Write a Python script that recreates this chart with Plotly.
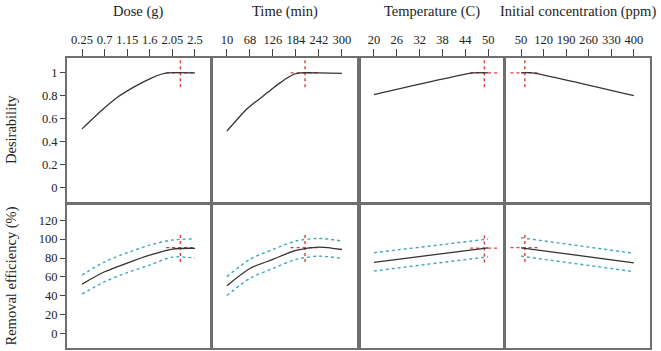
import plotly.graph_objects as go

# ---------------- data ----------------
factor_titles = ["Dose (g)", "Time (min)", "Temperature (C)", "Initial concentration (ppm)"]
row_titles = ["Desirability", "Removal efficiency (%)"]

dose_ticks = [0.25, 0.7, 1.15, 1.6, 2.05, 2.5]
time_ticks = [10, 68, 126, 184, 242, 300]
temp_ticks = [20, 26, 32, 38, 44, 50]
conc_ticks = [50, 120, 190, 260, 330, 400]

# Dose
dose_x = [0.25, 0.61, 0.95, 1.28, 1.61, 1.84, 1.95, 2.5]
dose_des = [0.51, 0.66, 0.785, 0.875, 0.95, 0.99, 1.0, 1.0]
dose_rx = [0.25, 0.7, 1.15, 1.6, 2.05, 2.5]
dose_rem = [52.5, 65.5, 74.7, 83.0, 89.5, 90.3]
dose_up = [62.0, 76.0, 85.6, 93.7, 99.0, 100.2]
dose_lo = [42.0, 55.0, 64.6, 72.6, 81.0, 80.0]

# Time
time_x = [10, 35, 59, 80, 101, 122, 143, 162, 181, 195, 242, 300]
time_des = [0.49, 0.59, 0.68, 0.74, 0.795, 0.855, 0.91, 0.955, 0.99, 1.0, 1.0, 0.995]
time_rx = [10, 68, 126, 184, 242, 300]
time_rem = [50.8, 69.0, 78.6, 88.0, 91.6, 89.0]
time_up = [60.4, 78.6, 89.0, 98.0, 100.7, 98.0]
time_lo = [40.4, 58.6, 69.0, 78.6, 82.0, 79.6]

# Temperature
temp_x = [20, 46, 50]
temp_des = [0.81, 1.0, 1.0]
temp_rx = [20, 50]
temp_rem = [75.4, 90.8]
temp_up = [85.6, 100.0]
temp_lo = [66.3, 81.4]

# Initial concentration
conc_x = [50, 85, 400]
conc_des = [1.0, 1.0, 0.80]
conc_rx = [50, 400]
conc_rem = [90.8, 75.0]
conc_up = [101.4, 85.0]
conc_lo = [82.0, 65.6]

# optimum (crosshair) settings
opt_x = [2.21, 207, 49, 62]
opt_des = [1.0, 1.0, 1.0, 1.0]
opt_rem = [91.0, 91.0, 90.5, 91.0]

des_ticks = [0, 0.2, 0.4, 0.6, 0.8, 1]
des_ticktext = ["0", "0.2", "0.4", "0.6", "0.8", "1"]
rem_ticks = [0, 20, 40, 60, 80, 100, 120]

# ---------------- layout geometry ----------------
W, H = 661, 351
x_ranges = [[-0.05, 2.8], [-25, 338], [16.6, 53.9], [3.5, 450]]
des_range = [-0.13, 1.13]
rem_range = [-15, 136]
col_px = [(67, 210), (213, 357), (361, 503), (506, 650)]
top_px = (58, 202)
bot_px = (205, 348)

FONT = "Liberation Serif, Times New Roman, serif"
BLACK = "#333333"
CYAN = "#3ea9b3"
RED = "#e23a3a"
FRAME = "#6f6f6f"

factors = [
    (dose_ticks, dose_x, dose_des, dose_rx, dose_rem, dose_up, dose_lo),
    (time_ticks, time_x, time_des, time_rx, time_rem, time_up, time_lo),
    (temp_ticks, temp_x, temp_des, temp_rx, temp_rem, temp_up, temp_lo),
    (conc_ticks, conc_x, conc_des, conc_rx, conc_rem, conc_up, conc_lo),
]

fig = go.Figure()
layout = dict(
    width=W, height=H, margin=dict(l=0, r=0, t=0, b=0),
    paper_bgcolor="white", plot_bgcolor="white", showlegend=False,
    font=dict(family=FONT, size=12, color="#222222"),
)


def ydom(px):
    return [1 - px[1] / H, 1 - px[0] / H]


annotations = []
for i, (ticks, xd, yd, rx, rem, up, lo) in enumerate(factors):
    xdom = [col_px[i][0] / W, col_px[i][1] / W]
    xt = i * 2 + 1  # top row axis index
    xb = i * 2 + 2  # bottom row axis index
    xr = x_ranges[i]
    xspan = xr[1] - xr[0]
    sx_t = "" if xt == 1 else str(xt)
    sx_b = str(xb)

    common_x = dict(domain=xdom, range=xr, showgrid=False, zeroline=False,
                    showline=True, mirror=True, linecolor=FRAME, linewidth=2,
                    tickvals=ticks, ticktext=[str(t) for t in ticks])
    layout["xaxis" + sx_t] = dict(common_x, anchor="y" + sx_t, side="top",
                                  ticks="outside", ticklen=7, tickcolor="#444",
                                  tickfont=dict(family=FONT, size=12.5, color="#222"))
    layout["xaxis" + sx_b] = dict(common_x, anchor="y" + sx_b, ticks="",
                                  showticklabels=False)
    common_y = dict(showgrid=False, zeroline=False, showline=True, mirror=True,
                    linecolor=FRAME, linewidth=2)
    show = i == 0
    layout["yaxis" + sx_t] = dict(common_y, domain=ydom(top_px), range=des_range,
                                  anchor="x" + sx_t, tickvals=des_ticks, ticktext=des_ticktext,
                                  ticks="outside" if show else "", ticklen=5, tickcolor="#444",
                                  showticklabels=show,
                                  tickfont=dict(family=FONT, size=12.5, color="#222"))
    layout["yaxis" + sx_b] = dict(common_y, domain=ydom(bot_px), range=rem_range,
                                  anchor="x" + sx_b, tickvals=rem_ticks,
                                  ticks="outside" if show else "", ticklen=5, tickcolor="#444",
                                  showticklabels=show,
                                  tickfont=dict(family=FONT, size=12.5, color="#222"))

    xa_t, ya_t = "x" + sx_t, "y" + sx_t
    xa_b, ya_b = "x" + sx_b, "y" + sx_b

    # crosshair sizes (fraction of axis spans)
    hx = 0.1 * xspan
    hy_t = 0.1 * (des_range[1] - des_range[0])
    hy_b = 0.1 * (rem_range[1] - rem_range[0])

    # top row: desirability
    fig.add_trace(go.Scatter(x=[opt_x[i] - hx, opt_x[i] + hx], y=[opt_des[i]] * 2,
                             mode="lines", line=dict(color=RED, width=1.4, dash="dot"),
                             xaxis=xa_t, yaxis=ya_t, hoverinfo="skip"))
    fig.add_trace(go.Scatter(x=[opt_x[i]] * 2, y=[opt_des[i] - hy_t, opt_des[i] + hy_t],
                             mode="lines", line=dict(color=RED, width=1.4, dash="dot"),
                             xaxis=xa_t, yaxis=ya_t, hoverinfo="skip"))
    fig.add_trace(go.Scatter(x=xd, y=yd, mode="lines",
                             line=dict(color=BLACK, width=1.3, shape="spline", smoothing=0.5),
                             xaxis=xa_t, yaxis=ya_t))

    # bottom row: removal efficiency
    fig.add_trace(go.Scatter(x=[opt_x[i] - hx, opt_x[i] + hx], y=[opt_rem[i]] * 2,
                             mode="lines", line=dict(color=RED, width=1.4, dash="dot"),
                             xaxis=xa_b, yaxis=ya_b, hoverinfo="skip"))
    fig.add_trace(go.Scatter(x=[opt_x[i]] * 2, y=[opt_rem[i] - hy_b, opt_rem[i] + hy_b],
                             mode="lines", line=dict(color=RED, width=1.4, dash="dot"),
                             xaxis=xa_b, yaxis=ya_b, hoverinfo="skip"))
    for yy in (up, lo):
        fig.add_trace(go.Scatter(x=rx, y=yy, mode="lines",
                                 line=dict(color=CYAN, width=1.4, dash="dot", shape="spline", smoothing=0.8),
                                 xaxis=xa_b, yaxis=ya_b))
    fig.add_trace(go.Scatter(x=rx, y=rem, mode="lines",
                             line=dict(color=BLACK, width=1.3, shape="spline", smoothing=0.8),
                             xaxis=xa_b, yaxis=ya_b))

    annotations.append(dict(text=factor_titles[i], xref="paper", yref="paper",
                            x=(xdom[0] + xdom[1]) / 2, y=1 - 11 / H,
                            xanchor="center", yanchor="middle", showarrow=False,
                            font=dict(family=FONT, size=14.5, color="#222")))

for r, px in enumerate([top_px, bot_px]):
    annotations.append(dict(text=row_titles[r], xref="paper", yref="paper",
                            x=11 / W, y=1 - (px[0] + px[1]) / 2 / H, textangle=-90,
                            xanchor="center", yanchor="middle", showarrow=False,
                            font=dict(family=FONT, size=14.5, color="#222")))

layout["annotations"] = annotations
fig.update_layout(**layout)
fig.write_html("out.html")
